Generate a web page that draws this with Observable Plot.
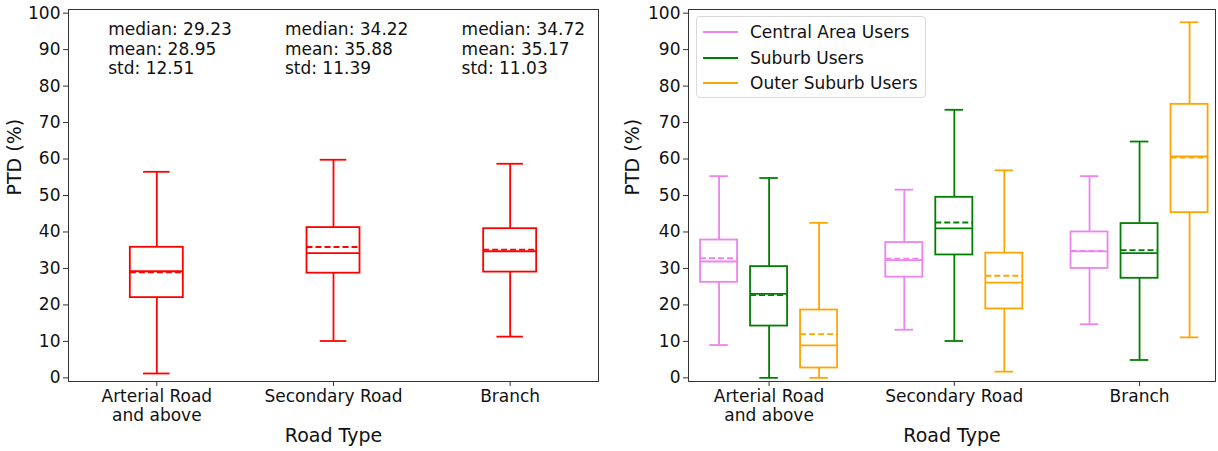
<!DOCTYPE html>
<html>
<head>
<meta charset="utf-8">
<script src="https://cdn.jsdelivr.net/npm/d3@7"></script>
<script src="https://cdn.jsdelivr.net/npm/@observablehq/plot@0.6"></script>
<style>
  html, body { margin: 0; padding: 0; background: #fff; }
  #wrap { position: relative; width: 1218px; height: 451px; display: flex; font-family: "DejaVu Sans", sans-serif; }
  .panel { position: relative; width: 609px; height: 451px; }
  .legend { position: absolute; left: 87px; top: 16px; width: 230px; height: 82px; border: 1px solid #d9d9d9; border-radius: 4px; background: rgba(255,255,255,0.85); box-sizing: border-box; }
  .legend .row { position: absolute; left: 0; height: 20px; font-size: 17px; line-height: 20px; color: #111; white-space: nowrap; }
  .legend .swatch { position: absolute; left: 6px; top: 9px; width: 35px; height: 0; border-top: 2px solid; }
  .legend .lbl { position: absolute; left: 53px; top: 0; }
</style>
</head>
<body>
<div id="wrap"><div class="panel" id="left"></div><div class="panel" id="right"></div></div>
<script>
// ---------- data ----------
const categories = ["Arterial Road\nand above", "Secondary Road", "Branch"];

// Left panel (all users)
const leftMin    = [1.2, 10.1, 11.3];
const leftQ1     = [22.0, 28.7, 29.0];
const leftMedian = [29.23, 34.22, 34.72];
const leftMean   = [28.95, 35.88, 35.17];
const leftQ3     = [35.8, 41.2, 40.9];
const leftMax    = [56.5, 59.8, 58.7];
const statMedian = ["29.23", "34.22", "34.72"];
const statMean   = ["28.95", "35.88", "35.17"];
const statStd    = ["12.51", "11.39", "11.03"];

// Right panel (by user group); rows = groups, cols = categories
const groups = ["Central Area Users", "Suburb Users", "Outer Suburb Users"];
const groupColors = ["violet", "green", "orange"];
const rightMin    = [[9.0, 13.2, 14.7], [0.0, 10.1, 4.9], [0.0, 1.7, 11.1]];
const rightQ1     = [[26.2, 27.6, 30.0], [14.2, 33.7, 27.3], [2.7, 18.9, 45.3]];
const rightMedian = [[31.9, 32.3, 34.7], [23.0, 41.0, 34.2], [8.9, 26.1, 60.7]];
const rightMean   = [[32.8, 32.7, 34.8], [22.7, 42.6, 35.0], [12.0, 28.0, 60.4]];
const rightQ3     = [[37.8, 37.1, 40.0], [30.5, 49.5, 42.3], [18.6, 34.2, 75.0]];
const rightMax    = [[55.3, 51.6, 55.3], [54.8, 73.5, 64.8], [42.5, 56.9, 97.5]];

// ---------- helpers ----------
const FONT = "DejaVu Sans";
const LW = 1.8;

function boxMarks(rows, w) {
  const common = {stroke: "color", strokeWidth: LW};
  return [
    Plot.ruleX(rows, {x: "pos", y1: "q3", y2: "max", ...common}),
    Plot.ruleX(rows, {x: "pos", y1: "min", y2: "q1", ...common}),
    Plot.rect(rows, {x1: d => d.pos - w / 2, x2: d => d.pos + w / 2, y1: "q1", y2: "q3", fill: "none", ...common}),
    Plot.ruleY(rows, {y: "max", x1: d => d.pos - w / 4, x2: d => d.pos + w / 4, ...common}),
    Plot.ruleY(rows, {y: "min", x1: d => d.pos - w / 4, x2: d => d.pos + w / 4, ...common}),
    Plot.ruleY(rows, {y: "median", x1: d => d.pos - w / 2, x2: d => d.pos + w / 2, ...common}),
    Plot.ruleY(rows, {y: "mean", x1: d => d.pos - w / 2, x2: d => d.pos + w / 2, strokeDasharray: "6,3", ...common})
  ];
}

function axisMarks(dxLabel) {
  return [
    Plot.axisY({ticks: d3.range(0, 101, 10), tickSize: 5, tickPadding: 3, label: null, fontSize: 17, stroke: "#333"}),
    Plot.axisX({ticks: [0, 1, 2], tickFormat: i => categories[i], tickSize: 5, tickPadding: 2, label: null, fontSize: 17, lineHeight: 1.13, stroke: "#333"}),
    Plot.frame({stroke: "#333", strokeWidth: 1}),
    Plot.text(["PTD (%)"], {frameAnchor: "left", dx: dxLabel, rotate: -90, fontSize: 19, fill: "#111"}),
    Plot.text(["Road Type"], {frameAnchor: "bottom", dy: 60, fontSize: 19, fill: "#111"})
  ];
}

// ---------- left panel ----------
const leftRows = categories.map((c, i) => ({
  pos: i, min: leftMin[i], q1: leftQ1[i], median: leftMedian[i], mean: leftMean[i],
  q3: leftQ3[i], max: leftMax[i], color: "red",
  label: `median: ${statMedian[i]}\nmean: ${statMean[i]}\nstd: ${statStd[i]}`
}));

const leftPlot = Plot.plot({
  width: 609, height: 451,
  marginLeft: 68, marginRight: 11, marginTop: 9, marginBottom: 70,
  style: {fontFamily: FONT, fontSize: "17px", color: "#111", background: "white"},
  x: {type: "linear", domain: [-0.5, 2.5], axis: null},
  y: {domain: [-1, 101], axis: null},
  color: {type: "identity"},
  marks: [
    ...axisMarks(-54),
    ...boxMarks(leftRows, 0.3),
    Plot.text(leftRows, {x: d => d.pos - 0.275, y: 90.3, text: "label", textAnchor: "start", lineAnchor: "middle", lineHeight: 1.13, fontSize: 17, fill: "#111"})
  ]
});
document.getElementById("left").appendChild(leftPlot);

// ---------- right panel ----------
const groupOffset = [-0.27, 0, 0.27];
const rightRows = [];
groups.forEach((g, gi) => categories.forEach((c, i) => rightRows.push({
  pos: i + groupOffset[gi], min: rightMin[gi][i], q1: rightQ1[gi][i], median: rightMedian[gi][i],
  mean: rightMean[gi][i], q3: rightQ3[gi][i], max: rightMax[gi][i], color: groupColors[gi]
})));

const rightPlot = Plot.plot({
  width: 609, height: 451,
  marginLeft: 79, marginRight: 3, marginTop: 9, marginBottom: 70,
  style: {fontFamily: FONT, fontSize: "17px", color: "#111", background: "white"},
  x: {type: "linear", domain: [-0.435, 2.41], axis: null},
  y: {domain: [-1, 101], axis: null},
  color: {type: "identity"},
  marks: [
    ...axisMarks(-56),
    ...boxMarks(rightRows, 0.2)
  ]
});
const rightDiv = document.getElementById("right");
rightDiv.appendChild(rightPlot);

// legend
const legend = document.createElement("div");
legend.className = "legend";
groups.forEach((g, gi) => {
  const row = document.createElement("div");
  row.className = "row";
  row.style.top = (5 + gi * 25.5) + "px";
  row.innerHTML = `<span class="swatch" style="border-color:${groupColors[gi]}"></span><span class="lbl">${g}</span>`;
  legend.appendChild(row);
});
rightDiv.appendChild(legend);
</script>
</body>
</html>
